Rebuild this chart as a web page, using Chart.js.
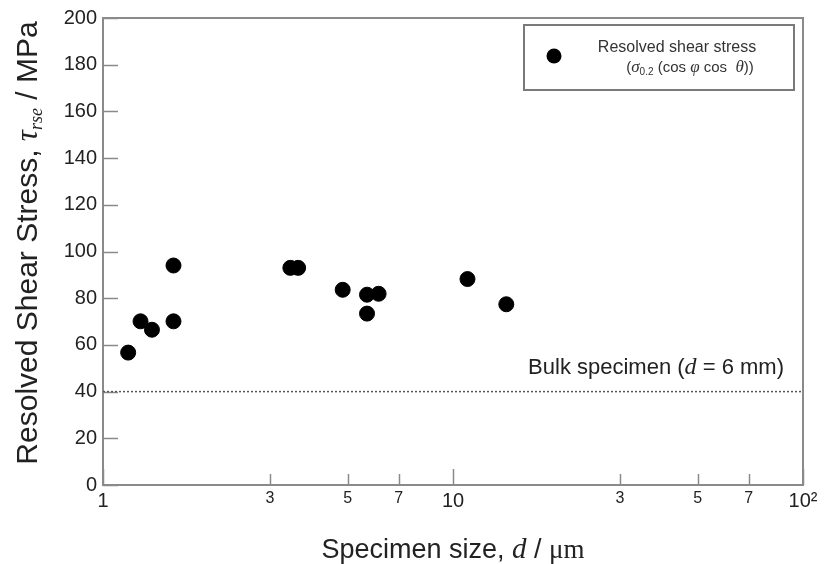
<!DOCTYPE html>
<html>
<head>
<meta charset="utf-8">
<script src="https://cdn.jsdelivr.net/npm/chart.js@4.4.0/dist/chart.umd.min.js"></script>
<style>
  html, body { margin: 0; padding: 0; background: #fff; }
  #wrap { width: 825px; height: 564px; position: relative; }
</style>
</head>
<body>
<div id="wrap"><canvas id="c"></canvas></div>
<script>
// ---- data ----
const sizes  = [1.18, 1.28, 1.38, 1.59, 1.59, 3.43, 3.61, 4.84, 5.68, 5.68, 6.13, 11.0, 14.2];
const stress = [56.7, 70.1, 66.5, 94.0, 70.1, 93.0, 93.0, 83.6, 81.5, 73.4, 81.9, 88.2, 77.4];
const bulkStress = 40;
const xTickValues = [1, 3, 5, 7, 10, 30, 50, 70, 100];
const xTickLabels = ['1', '3', '5', '7', '10', '3', '5', '7', '10\u00B2'];
const yTickValues = [0, 20, 40, 60, 80, 100, 120, 140, 160, 180, 200];
const seriesLabel = 'Resolved shear stress';
const bulkLabel = 'Bulk specimen';

const SANS = '"Liberation Sans", Arial, sans-serif';
const SERIF = '"Liberation Serif", "Times New Roman", serif';
const TXT = '#222';

function richWidth(ctx, segs) {
  let w = 0;
  for (const s of segs) { ctx.font = s.font; w += ctx.measureText(s.t).width; }
  return w;
}
function drawRich(ctx, segs, x, y, align) {
  const w = richWidth(ctx, segs);
  let cx = align === 'center' ? x - w / 2 : (align === 'right' ? x - w : x);
  ctx.textBaseline = 'alphabetic';
  ctx.textAlign = 'left';
  for (const s of segs) {
    ctx.font = s.font;
    ctx.fillStyle = s.color || TXT;
    ctx.fillText(s.t, cx, y + (s.dy || 0));
    cx += ctx.measureText(s.t).width;
  }
}

const decor = {
  id: 'decor',
  beforeDatasetsDraw(chart) {
    const {ctx, chartArea: a, scales: {x, y}} = chart;
    ctx.save();
    ctx.strokeStyle = '#8a8a8a';
    ctx.lineWidth = 2;
    ctx.strokeRect(a.left, a.top, a.right - a.left, a.bottom - a.top);
    ctx.lineWidth = 1.5;
    for (const v of yTickValues) {
      const py = Math.round(y.getPixelForValue(v)) + 0.5;
      ctx.beginPath(); ctx.moveTo(a.left, py); ctx.lineTo(a.left + 15, py); ctx.stroke();
    }
    for (const v of xTickValues) {
      const px = Math.round(x.getPixelForValue(v)) + 0.5;
      const len = (v === 1 || v === 10 || v === 100) ? 16 : 11;
      ctx.beginPath(); ctx.moveTo(px, a.bottom); ctx.lineTo(px, a.bottom - len); ctx.stroke();
    }
    ctx.restore();
  },
  afterDraw(chart) {
    const {ctx, chartArea: a, scales: {x, y}} = chart;
    ctx.save();
    // x title
    drawRich(ctx, [
      {t: 'Specimen size, ', font: '27px ' + SANS},
      {t: 'd', font: 'italic 29px ' + SERIF},
      {t: ' / ', font: '27px ' + SANS},
      {t: '\u03BCm', font: '27px ' + SERIF}
    ], 453, 558, 'center');
    // y title
    ctx.translate(37, 243);
    ctx.rotate(-Math.PI / 2);
    drawRich(ctx, [
      {t: 'Resolved Shear Stress, ', font: '30px ' + SANS},
      {t: '\u03C4', font: 'italic 31px ' + SERIF},
      {t: 'rse', font: 'italic 18px ' + SERIF, dy: 5},
      {t: ' / MPa', font: '30px ' + SANS}
    ], 0, 0, 'center');
    ctx.setTransform(1, 0, 0, 1, 0, 0);
    // bulk label
    drawRich(ctx, [
      {t: bulkLabel + ' (', font: '22px ' + SANS},
      {t: 'd', font: 'italic 24px ' + SERIF},
      {t: ' = 6 mm)', font: '22px ' + SANS}
    ], 784, y.getPixelForValue(bulkStress) - 18, 'right');
    // legend
    const lx = 524, ly = 25, lw = 270, lh = 65;
    ctx.fillStyle = '#fff';
    ctx.fillRect(lx, ly, lw, lh);
    ctx.strokeStyle = '#7a7a7a';
    ctx.lineWidth = 2;
    ctx.strokeRect(lx, ly, lw, lh);
    ctx.fillStyle = '#000';
    ctx.beginPath(); ctx.arc(554, 56, 7.5, 0, Math.PI * 2); ctx.fill();
    drawRich(ctx, [{t: seriesLabel, font: '16px ' + SANS, color: '#333'}], 677, 52, 'center');
    drawRich(ctx, [
      {t: '(', font: '15px ' + SANS, color: '#333'},
      {t: '\u03C3', font: 'italic 17px ' + SERIF, color: '#333'},
      {t: '0.2', font: '10px ' + SANS, dy: 3, color: '#333'},
      {t: ' (cos ', font: '15px ' + SANS, color: '#333'},
      {t: '\u03C6', font: 'italic 17px ' + SERIF, color: '#333'},
      {t: ' cos  ', font: '15px ' + SANS, color: '#333'},
      {t: '\u03B8', font: 'italic 17px ' + SERIF, color: '#333'},
      {t: '))', font: '15px ' + SANS, color: '#333'}
    ], 690, 72, 'center');
    ctx.restore();
  }
};

const points = sizes.map((s, i) => ({x: s, y: stress[i]}));

new Chart(document.getElementById('c'), {
  type: 'scatter',
  data: {
    datasets: [
      {
        label: seriesLabel,
        data: points,
        backgroundColor: '#000',
        borderColor: '#000',
        pointRadius: 7.5,
        pointHoverRadius: 7.5
      },
      {
        type: 'line',
        label: bulkLabel,
        data: [{x: 1, y: bulkStress}, {x: 100, y: bulkStress}],
        borderColor: '#555',
        borderWidth: 1.5,
        borderDash: [2, 2],
        pointRadius: 0,
        fill: false
      }
    ]
  },
  options: {
    responsive: true,
    maintainAspectRatio: false,
    animation: false,
    events: [],
    layout: { padding: { left: 0, right: 22, top: 17, bottom: 0 } },
    plugins: { legend: { display: false }, tooltip: { enabled: false } },
    scales: {
      x: {
        type: 'logarithmic',
        min: 1, max: 100,
        afterBuildTicks(scale) { scale.ticks = xTickValues.map(v => ({value: v})); },
        afterFit(scale) { scale.height = 79; },
        grid: { display: false, drawTicks: false },
        border: { display: false },
        ticks: {
          autoSkip: false,
          maxRotation: 0,
          padding: 4,
          color: TXT,
          callback: (v, i) => xTickLabels[i],
          font: (c) => {
            const v = c.tick ? c.tick.value : 1;
            return (v === 1 || v === 10 || v === 100)
              ? {family: SANS, size: 20}
              : {family: '"Liberation Sans Narrow", ' + SANS, size: 16};
          }
        }
      },
      y: {
        min: 0, max: 200,
        afterBuildTicks(scale) { scale.ticks = yTickValues.map(v => ({value: v})); },
        afterFit(scale) { scale.width = 103; },
        grid: { display: false, drawTicks: false },
        border: { display: false },
        ticks: {
          padding: 6,
          color: TXT,
          font: {family: SANS, size: 20}
        }
      }
    }
  },
  plugins: [decor]
});
</script>
</body>
</html>
